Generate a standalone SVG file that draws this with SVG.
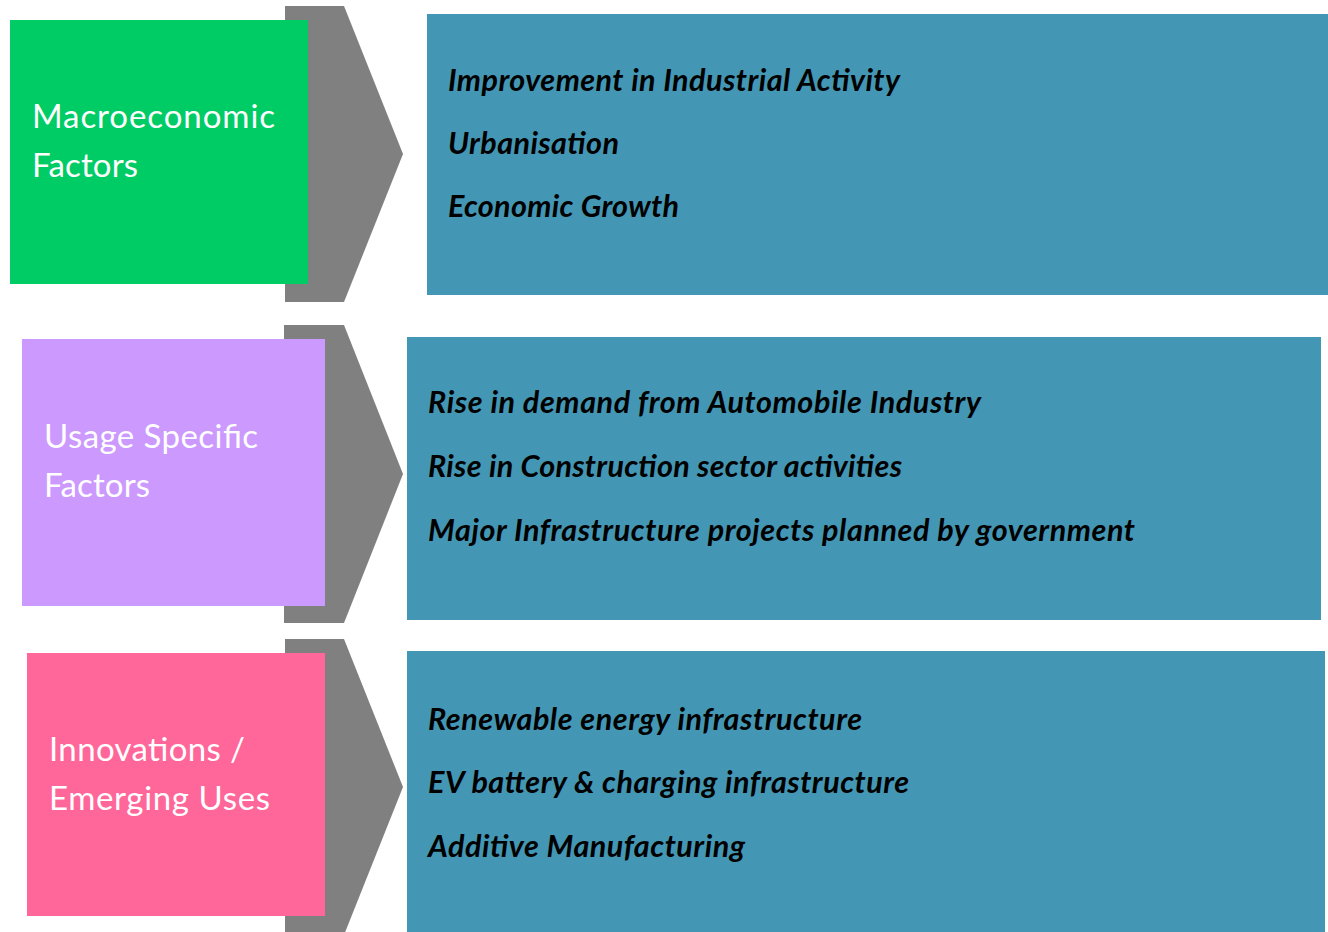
<svg xmlns="http://www.w3.org/2000/svg" width="1328" height="932" viewBox="0 0 1328 932">
  <style>
    .chev { fill: #808080; }
    .panel { fill: #4397b4; }
    .label { font-family: Lato, "Open Sans", "Liberation Sans", sans-serif; font-size: 33px; fill: #ffffff; }
    .item { font-family: Lato, "Open Sans", "Liberation Sans", sans-serif; font-size: 30.5px; font-weight: bold; font-style: italic; fill: #000000; }
  </style>
  <rect width="1328" height="932" fill="#ffffff"/>

  <!-- chevron arrows linking each category to its detail panel -->
  <g id="connectors">
    <polygon class="chev" points="285,6 344,6 403,154 344,302 285,302"/>
    <polygon class="chev" points="284,325 344,325 403,474 344,623 284,623"/>
    <polygon class="chev" points="285,639 344,639 403,787 344,935 285,935"/>
  </g>

  <g id="macroeconomic">
    <rect x="10" y="20" width="298" height="264" fill="#00cc66"/>
    <text class="label" x="32" y="128" textLength="243">Macroeconomic</text>
    <text class="label" x="32" y="177" textLength="106">Factors</text>
  </g>
  <g id="macroeconomic-details">
    <rect class="panel" x="427" y="14" width="901" height="281"/>
    <text class="item" x="448" y="91" textLength="452">Improvement in Industrial Activity</text>
    <text class="item" x="448" y="154" textLength="171">Urbanisation</text>
    <text class="item" x="448" y="217" textLength="231">Economic Growth</text>
  </g>

  <g id="usage">
    <rect x="22" y="339" width="303" height="267" fill="#cc99ff"/>
    <text class="label" x="44" y="448" textLength="214">Usage Specific</text>
    <text class="label" x="44" y="497" textLength="106">Factors</text>
  </g>
  <g id="usage-details">
    <rect class="panel" x="407" y="337" width="914" height="283"/>
    <text class="item" x="428" y="413" textLength="553">Rise in demand from Automobile Industry</text>
    <text class="item" x="428" y="477" textLength="474">Rise in Construction sector activities</text>
    <text class="item" x="428" y="541" textLength="707">Major Infrastructure projects planned by government</text>
  </g>

  <g id="innovations">
    <rect x="27" y="653" width="298" height="263" fill="#ff6699"/>
    <text class="label" x="49" y="761" textLength="196">Innovations /</text>
    <text class="label" x="49" y="810" textLength="221">Emerging Uses</text>
  </g>
  <g id="innovations-details">
    <rect class="panel" x="407" y="651" width="918" height="281"/>
    <text class="item" x="428" y="730" textLength="434">Renewable energy infrastructure</text>
    <text class="item" x="428" y="793" textLength="481">EV battery &amp; charging infrastructure</text>
    <text class="item" x="428" y="857" textLength="317">Additive Manufacturing</text>
  </g>
</svg>
